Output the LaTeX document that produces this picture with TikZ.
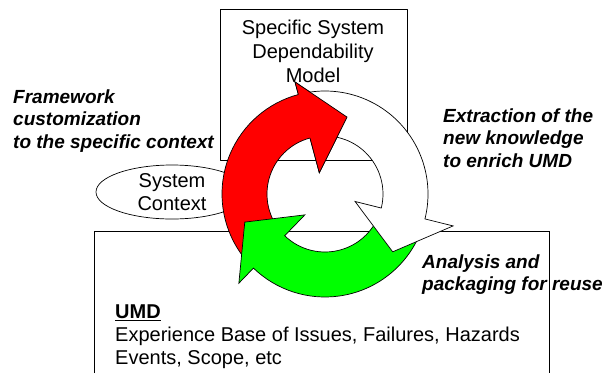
\documentclass[tikz,border=0pt]{standalone}
\usepackage{fontspec}
\setmainfont{Liberation Sans}
\usepackage{tkz-euclide}
\usetikzlibrary{shapes.geometric}

\begin{document}
\begin{tikzpicture}[x=1pt,y=-1pt,
    txt/.style={inner sep=0pt,font=\fontsize{20}{24}\selectfont},
    lbl/.style={inner sep=0pt,align=left,anchor=north west,font=\fontsize{19}{22.5}\selectfont\bfseries\itshape},
    band/.style={draw=black,line width=0.7pt}]
    \useasboundingbox (0,0) rectangle (605,373);
    \tkzDefPoints{325/194/O, 220/9/A, 407/9/B, 407/160/C, 220/160/D}
    \tkzDefPoints{94/373/K, 94/231/L, 549/231/M, 549/373/N}
    \tkzDrawPolygon[line width=0.7pt](A,B,C,D)
    \draw[line width=0.7pt] (K) -- (L) -- (M) -- (N);
    \node[txt,align=center,anchor=north] (sdm) at (313,19.5) {Specific System\\Dependability\\Model};
    \node[txt,draw,ellipse,line width=0.7pt,align=center,minimum width=152pt,minimum height=54pt,
          font=\fontsize{20}{22.5}\selectfont] (ctx) at (172,192) {System\\Context};
    \node[txt,align=left,anchor=north west,font=\fontsize{20}{23}\selectfont] (umd) at (115,305)
        {\underline{\textbf{UMD}}\\Experience Base of Issues, Failures, Hazards\\Events, Scope, etc};
    \node[lbl] (fw) at (13,89.5) {Framework\\customization\\to the specific context};
    \node[lbl] (ext) at (443,108.5) {Extraction of the\\new knowledge\\to enrich UMD};
    \node[lbl] (ana) at (422,254.5) {Analysis and\\packaging for reuse};
    % red arrow
    \tkzDefShiftPoint[O](143:103){R1}
    \tkzDefShiftPoint[O](255:103){R2}
    \tkzDefShiftPoint[O](255:116){R3}
    \tkzDefShiftPoint[O](286:80){R4}
    \tkzDefShiftPoint[O](255:22){R5}
    \tkzDefShiftPoint[O](255:58){R6}
    \draw[band,fill=red] (R1) arc[start angle=143,end angle=255,radius=103] -- (R3) -- (R4) -- (R5)
        -- (R6) arc[start angle=255,end angle=143,radius=58] -- cycle;
    % green arrow
    \tkzDefShiftPoint[O](22:103){G1}
    \tkzDefShiftPoint[O](134:103){G2}
    \tkzDefShiftPoint[O](134:124){G3}
    \tkzDefShiftPoint[O](160.7:85){G4}
    \tkzDefShiftPoint[O](134:29){G5}
    \tkzDefShiftPoint[O](134:58){G6}
    \draw[band,fill=green] (G1) arc[start angle=22,end angle=134,radius=103] -- (G3) -- (G4) -- (G5)
        -- (G6) arc[start angle=134,end angle=22,radius=58] -- cycle;
    % white arrow
    \tkzDefShiftPoint[O](260:103){W1}
    \tkzDefShiftPoint[O](374:103){W2}
    \tkzDefShiftPoint[O](374:132){W3}
    \tkzDefShiftPoint[O](400.5:89){W4}
    \tkzDefShiftPoint[O](374:31){W5}
    \tkzDefShiftPoint[O](374:58){W6}
    \draw[band,fill=white] (W1) arc[start angle=260,end angle=374,radius=103] -- (W3) -- (W4) -- (W5)
        -- (W6) arc[start angle=374,end angle=260,radius=58] -- cycle;
    % red head again, over the white tail
    \fill[red] (R3) -- (R4) -- (R5) -- cycle;
    \draw[band] (R2) -- (R3) -- (R4) -- (R5) -- (R6);
\end{tikzpicture}
\end{document}
